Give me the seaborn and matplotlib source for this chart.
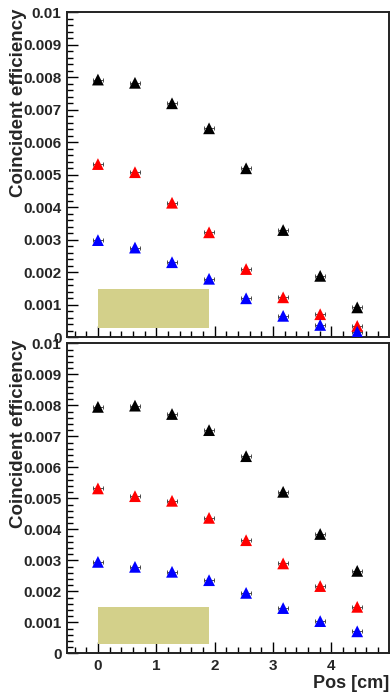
import numpy as np
import pandas as pd
import matplotlib
matplotlib.use("Agg")
import matplotlib.pyplot as plt
from matplotlib.patches import Rectangle
from matplotlib.ticker import MultipleLocator, FuncFormatter
import seaborn as sns

# ---- data ----
pos = [0.0, 0.635, 1.27, 1.905, 2.54, 3.175, 3.81, 4.445]
top_black = [0.00793, 0.00783, 0.00720, 0.00643, 0.00520, 0.00330, 0.00189, 0.00092]
top_red = [0.00533, 0.00508, 0.00414, 0.00323, 0.00210, 0.00123, 0.00071, 0.00035]
top_blue = [0.00299, 0.00276, 0.00231, 0.00180, 0.00120, 0.00066, 0.00038, 0.00017]
bot_black = [0.00795, 0.00799, 0.00772, 0.00720, 0.00636, 0.00521, 0.00385, 0.00266]
bot_red = [0.00532, 0.00507, 0.00492, 0.00437, 0.00365, 0.00290, 0.00217, 0.00150]
bot_blue = [0.00295, 0.00279, 0.00263, 0.00236, 0.00195, 0.00146, 0.00104, 0.00071]
band_x = [0.0, 1.905]
band_y = [0.0003, 0.0015]
series_names = ["black", "red", "blue"]
series_colors = {"black": "#000000", "red": "#ff0000", "blue": "#0000ff"}
band_color = "#d3d08a"
xlabel = "Pos [cm]"
ylabel = "Coincident efficiency"

sns.set_theme(style="white")
plt.rcParams["font.family"] = ["Liberation Sans", "DejaVu Sans"]
plt.rcParams["font.weight"] = "bold"

fig = plt.figure(figsize=(3.91, 6.94), dpi=100)
ax_top = fig.add_axes([0.1714, 0.514, 0.8235, 0.4683])
ax_bot = fig.add_axes([0.1714, 0.0586, 0.8235, 0.4467])


def fmt_y(v, _):
    if abs(v) < 1e-12:
        return "0"
    if v >= 0.0099:
        return "0.01"
    return f"{v:.3f}"


def draw(ax, blk, red, blu, show_x):
    ax.add_patch(Rectangle((band_x[0], band_y[0]), band_x[1] - band_x[0],
                           band_y[1] - band_y[0], facecolor=band_color,
                           edgecolor="none", zorder=1))
    df = pd.DataFrame({
        "pos": pos * 3,
        "eff": blk + red + blu,
        "series": [series_names[0]] * len(pos) + [series_names[1]] * len(pos)
                  + [series_names[2]] * len(pos),
    })
    ax.errorbar(df["pos"], df["eff"], xerr=0.09, fmt="none", ecolor="#333333",
                elinewidth=0.6, capsize=1.2, capthick=0.6, zorder=2)
    sns.scatterplot(data=df, x="pos", y="eff", hue="series",
                    palette=series_colors, marker="^", s=72, linewidth=0,
                    legend=False, ax=ax, zorder=3)
    ax.set_xlim(-0.53, 4.99)
    ax.set_ylim(0, 0.01)
    ax.yaxis.set_major_locator(MultipleLocator(0.001))
    ax.yaxis.set_minor_locator(MultipleLocator(0.0002))
    ax.xaxis.set_major_locator(MultipleLocator(1))
    ax.xaxis.set_minor_locator(MultipleLocator(0.2))
    ax.yaxis.set_major_formatter(FuncFormatter(fmt_y))
    ax.tick_params(axis="both", which="major", direction="in", length=8,
                   width=1.0, color="black", labelsize=11, pad=4)
    ax.tick_params(axis="both", which="minor", direction="in", length=4,
                   width=1.0, color="black")
    ax.tick_params(axis="x", which="both", bottom=True, top=False)
    ax.tick_params(axis="y", which="both", left=True, right=False)
    for lab in ax.get_yticklabels() + ax.get_xticklabels():
        lab.set_fontweight("bold")
    if not show_x:
        ax.tick_params(axis="x", labelbottom=False)
    ax.set_xlabel("")
    ax.set_ylabel(ylabel, fontsize=13.5, fontweight="bold", loc="top")
    ax.yaxis.set_label_coords(-0.125, 1.012)
    for sp in ax.spines.values():
        sp.set_linewidth(1.4)
        sp.set_color("#222222")
        sp.set_visible(True)


draw(ax_top, top_black, top_red, top_blue, False)
draw(ax_bot, bot_black, bot_red, bot_blue, True)
ax_bot.set_xlabel(xlabel, fontsize=13, fontweight="bold", loc="right")
ax_bot.xaxis.set_label_coords(1.0, -0.07)
ax_bot.xaxis.label.set_horizontalalignment("right")

fig.savefig("out.png", dpi=100, facecolor="white")
